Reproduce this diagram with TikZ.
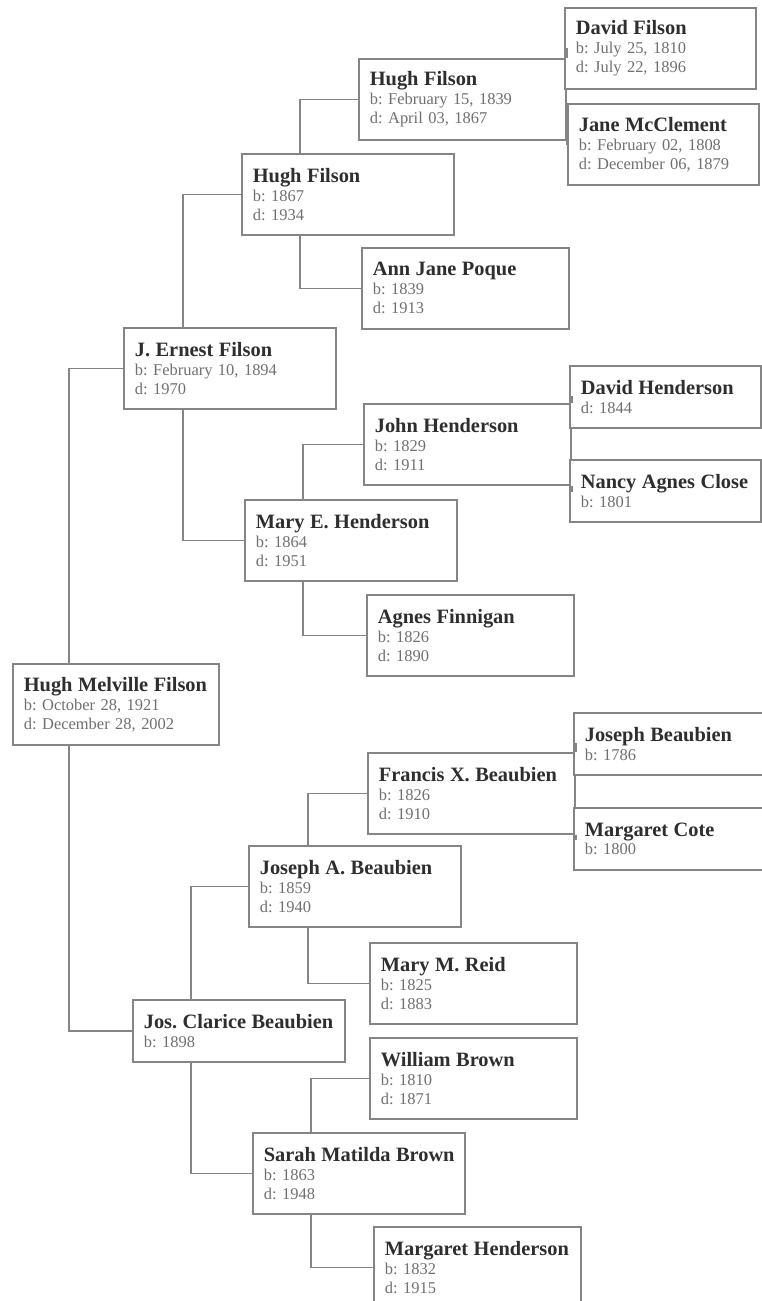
\documentclass[tikz,border=0pt]{standalone}
\usepackage{fontspec}
\setmainfont{Liberation Serif}
\usetikzlibrary{calc}
\definecolor{treeLine}{HTML}{858585}
\definecolor{nameInk}{HTML}{2E2E2E}
\definecolor{dateInk}{HTML}{707070}
\newcommand{\pname}[1]{\mbox{\fontsize{14.5}{13.5}\selectfont\bfseries\color{nameInk}#1}}
\frenchspacing

\begin{document}
\begin{tikzpicture}[
  x=0.025cm, y=-0.025cm,
  box/.style={draw=treeLine,line width=1.2pt,fill=white,anchor=north west,
              align=left,text width=4.75cm,inner xsep=0.275cm,inner ysep=0pt,
              minimum height=2.025cm,text=dateInk,
              font=\fontsize{11.7}{13.5}\selectfont},
  nbox/.style={box,text width=4.625cm},
  tbox/.style={box,text width=4.225cm},
  lowbox/.style={minimum height=1.55cm},
  link/.style={draw=treeLine,line width=1.2pt}
]
\useasboundingbox (0,0) rectangle (762,1301);

% generation 0 and 1
\node[box,text width=4.6cm] (hmf) at (12,663)
  {\pname{Hugh Melville Filson}\\b: October 28, 1921\\d: December 28, 2002};
\node[box] (jef) at (123,327)
  {\pname{J. Ernest Filson}\\b: February 10, 1894\\d: 1970};
\node[box,lowbox] (jcb) at (132,999)
  {\pname{Jos. Clarice Beaubien}\\b: 1898};

% generation 2
\node[box] (hf2) at (241,153) {\pname{Hugh Filson}\\b: 1867\\d: 1934};
\node[box] (mej) at (244,499) {\pname{Mary E. Henderson}\\b: 1864\\d: 1951};
\node[box] (jab) at (248,845) {\pname{Joseph A. Beaubien}\\b: 1859\\d: 1940};
\node[box] (smb) at (252,1132) {\pname{Sarah Matilda Brown}\\b: 1863\\d: 1948};

% generation 3
\node[nbox] (hf3) at (358,58)
  {\pname{Hugh Filson}\\b: February 15, 1839\\d: April 03, 1867};
\node[nbox] (ajp) at (361,247) {\pname{Ann Jane Poque}\\b: 1839\\d: 1913};
\node[nbox] (jhe) at (363,403) {\pname{John Henderson}\\b: 1829\\d: 1911};
\node[nbox] (agf) at (366,594) {\pname{Agnes Finnigan}\\b: 1826\\d: 1890};
\node[nbox] (fxb) at (367,752) {\pname{Francis X. Beaubien}\\b: 1826\\d: 1910};
\node[nbox] (mmr) at (369,942) {\pname{Mary M. Reid}\\b: 1825\\d: 1883};
\node[nbox] (wbr) at (369,1037) {\pname{William Brown}\\b: 1810\\d: 1871};
\node[nbox] (mhe) at (373,1226) {\pname{Margaret Henderson}\\b: 1832\\d: 1915};

% generation 4
\node[tbox] (dfi) at (564,7)
  {\pname{David Filson}\\b: July 25, 1810\\d: July 22, 1896};
\node[tbox] (jmc) at (567,103)
  {\pname{Jane McClement}\\b: February 02, 1808\\d: December 06, 1879};
\node[tbox,lowbox] (dhe) at (569,365) {\pname{David Henderson}\\d: 1844};
\node[tbox,lowbox] (nac) at (569,459) {\pname{Nancy Agnes Close}\\b: 1801};
\node[tbox,lowbox] (jbe) at (573,712) {\pname{Joseph Beaubien}\\b: 1786};
\node[tbox,lowbox] (mco) at (573,807) {\pname{Margaret Cote}\\b: 1800};

% child to father (top) and mother (bottom)
\draw[link] ($(hmf.north west)+(57,0)$) |- (jef.west);
\draw[link] ($(hmf.south west)+(57,0)$) |- (jcb.west);
\draw[link] ($(jef.north west)+(60,0)$) |- (hf2.west);
\draw[link] ($(jef.south west)+(60,0)$) |- (mej.west);
\draw[link] ($(jcb.north west)+(59,0)$) |- (jab.west);
\draw[link] ($(jcb.south west)+(59,0)$) |- (smb.west);
\draw[link] ($(hf2.north west)+(59,0)$) |- (hf3.west);
\draw[link] ($(hf2.south west)+(59,0)$) |- (ajp.west);
\draw[link] ($(mej.north west)+(59,0)$) |- (jhe.west);
\draw[link] ($(mej.south west)+(59,0)$) |- (agf.west);
\draw[link] ($(jab.north west)+(60,0)$) |- (fxb.west);
\draw[link] ($(jab.south west)+(60,0)$) |- (mmr.west);
\draw[link] ($(smb.north west)+(59,0)$) |- (wbr.west);
\draw[link] ($(smb.south west)+(59,0)$) |- (mhe.west);
\draw[link] (hf3.north east) |- (dfi.west);
\draw[link] (hf3.south east) |- (jmc.west);
\draw[link] (jhe.north east) |- (dhe.west);
\draw[link] (jhe.south east) |- (nac.west);
\draw[link] (fxb.north east) |- (jbe.west);
\draw[link] (fxb.south east) |- (mco.west);
\end{tikzpicture}
\end{document}
